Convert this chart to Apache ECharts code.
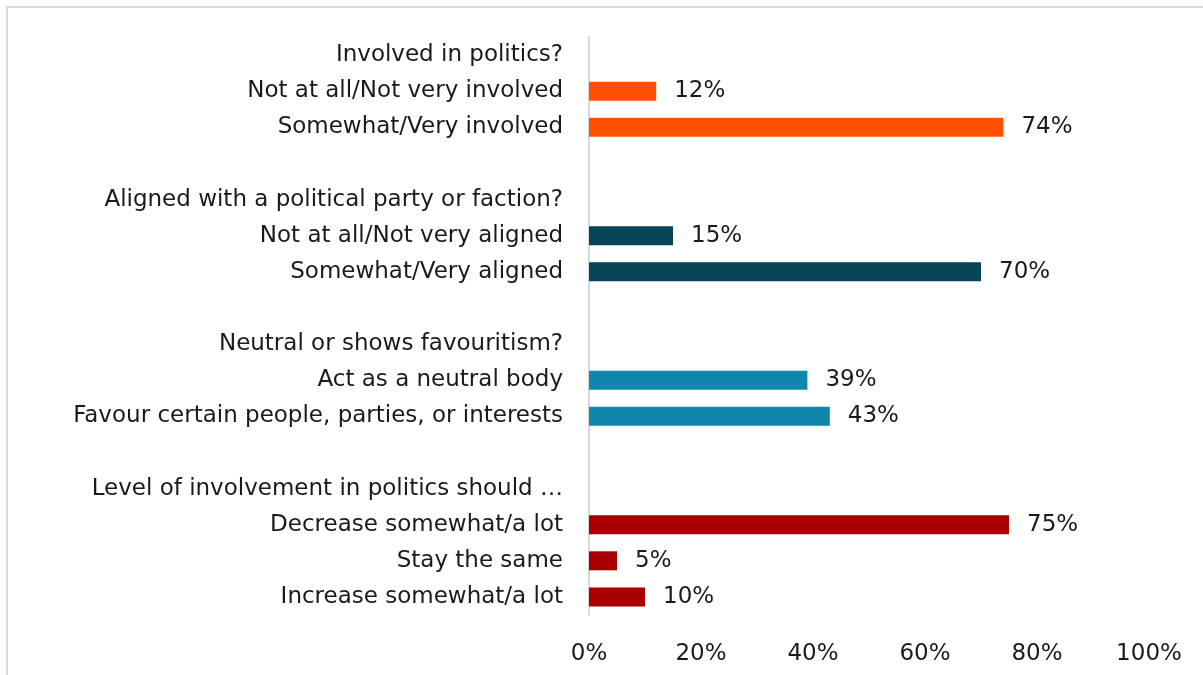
<!DOCTYPE html>
<html>
<head>
<meta charset="utf-8">
<title>Views on political involvement</title>
<script src="https://cdn.jsdelivr.net/npm/echarts@6/dist/echarts.min.js"></script>
<style>
  html, body { margin: 0; padding: 0; background: #ffffff; }
  #chart { width: 1203px; height: 675px; }
</style>
</head>
<body>
<div id="chart"></div>
<script>
// Question headings, one per block of answers
const groupTitles = [
  'Involved in politics?',
  'Aligned with a political party or faction?',
  'Neutral or shows favouritism?',
  'Level of involvement in politics should \u2026'
];

// Answer labels in each block
const groupAnswers = [
  ['Not at all/Not very involved', 'Somewhat/Very involved'],
  ['Not at all/Not very aligned', 'Somewhat/Very aligned'],
  ['Act as a neutral body', 'Favour certain people, parties, or interests'],
  ['Decrease somewhat/a lot', 'Stay the same', 'Increase somewhat/a lot']
];

// Share of respondents (%) per answer
const groupValues = [
  [12, 74],
  [15, 70],
  [39, 43],
  [75, 5, 10]
];

// X axis ticks (%)
const xTicks = [0, 20, 40, 60, 80, 100];

// Bar colour for each block
const groupColors = ['#FF5000', '#084457', '#0F86AC', '#A80000'];

// Flatten the blocks into rows: heading, answers, then a spacer row
const categories = [];
const barData = [];
groupTitles.forEach(function (title, g) {
  categories.push(title);
  barData.push(null);
  groupAnswers[g].forEach(function (answer, i) {
    categories.push(answer);
    barData.push({ value: groupValues[g][i], itemStyle: { color: groupColors[g] } });
  });
  if (g < groupTitles.length - 1) {
    categories.push(' '.repeat(g + 1));
    barData.push(null);
  }
});

const FONT = 'DejaVu Sans';
const TEXT = '#1a1a1a';
const SIZE = 23;

const chart = echarts.init(document.getElementById('chart'), null, { renderer: 'canvas' });
chart.setOption({
  animation: false,
  backgroundColor: '#ffffff',
  grid: { left: 589, right: 54, top: 37, bottom: 60, containLabel: false },
  xAxis: {
    type: 'value',
    min: xTicks[0],
    max: xTicks[xTicks.length - 1],
    interval: xTicks[1] - xTicks[0],
    axisLine: { show: false },
    axisTick: { show: false },
    splitLine: { show: false },
    axisLabel: {
      formatter: '{value}%',
      color: TEXT,
      fontFamily: FONT,
      fontSize: SIZE,
      margin: 28
    }
  },
  yAxis: {
    type: 'category',
    inverse: true,
    data: categories,
    axisLine: { show: true, lineStyle: { color: '#d9d9d9', width: 2 } },
    axisTick: { show: false },
    splitLine: { show: false },
    axisLabel: {
      interval: 0,
      color: TEXT,
      fontFamily: FONT,
      fontSize: SIZE,
      margin: 26,
      padding: [3, 0, 0, 0]
    }
  },
  series: [{
    type: 'bar',
    data: barData,
    barWidth: 19,
    label: {
      show: true,
      position: 'right',
      distance: 18,
      formatter: '{c}%',
      color: TEXT,
      fontFamily: FONT,
      fontSize: SIZE
    }
  }],
  graphic: [{
    type: 'polyline',
    shape: { points: [[7, 675], [7, 7], [1203, 7]] },
    style: { stroke: '#d9d9d9', lineWidth: 2, fill: null },
    silent: true
  }]
});
</script>
</body>
</html>
